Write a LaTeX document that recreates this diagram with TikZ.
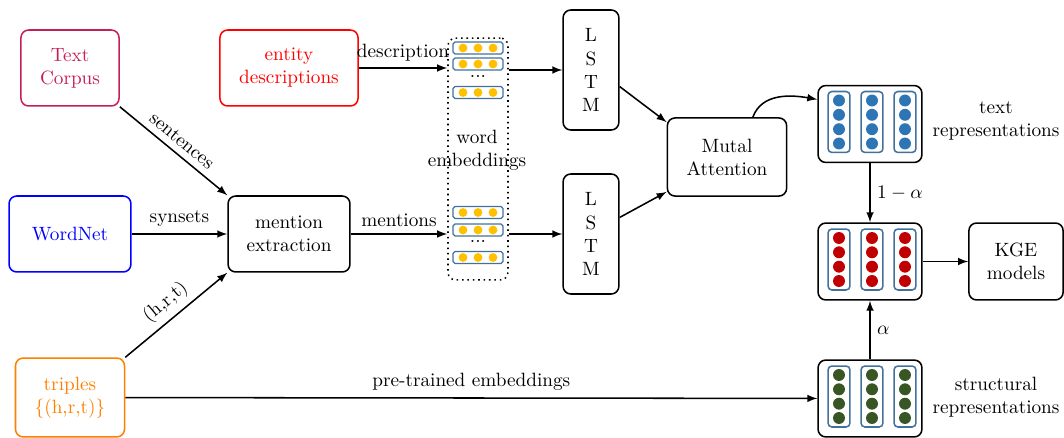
\documentclass[tikz,border=0pt]{standalone}
\usetikzlibrary{positioning}

\definecolor{corpus}{RGB}{198,30,90}
\definecolor{triplecol}{RGB}{255,128,0}
\definecolor{embline}{RGB}{65,113,156}
\definecolor{embdot}{RGB}{255,192,0}
\definecolor{textdot}{RGB}{46,117,182}
\definecolor{mixdot}{RGB}{192,0,0}
\definecolor{structdot}{RGB}{55,86,35}

\begin{document}
\begin{tikzpicture}[
  x=0.52pt, y=-0.52pt,
  box/.style={draw, thick, rounded corners=4pt, align=center, minimum height=39.5pt, inner sep=2pt},
  arr/.style={-latex, thick},
  embrect/.style={draw=embline, semithick, rounded corners=1pt, minimum width=26pt, minimum height=6.2pt, inner sep=0pt},
  column/.style={draw=embline, thick, rounded corners=2pt, minimum width=11.4pt, minimum height=31.7pt, inner sep=0pt},
]
  \useasboundingbox (0,0) rectangle (1064,438);

  % inputs
  \node[box, draw=corpus, text=corpus, minimum width=51pt] (tc) at (70,68) {Text\\Corpus};
  \node[box, draw=red, text=red, minimum width=71.8pt] (ed) at (289,68) {entity\\descriptions};
  \node[box, draw=blue, text=blue, minimum width=63.4pt] (wn) at (70,234) {WordNet};
  \node[box, draw=triplecol, text=triplecol, minimum width=56.7pt, minimum height=41pt] (tr) at (70,397.5) {triples\\$\{$(h,r,t)$\}$};
  \node[box, minimum width=63.4pt] (me) at (289,234) {mention\\extraction};

  % word embeddings
  \node[draw, thick, dotted, rounded corners=4pt, minimum width=31.2pt, minimum height=125.8pt] (we) at (478,159) {};
  \foreach \n/\y in {e1/48, e2/64, e3/92.5, f1/212.5, f2/230, f3/257.5} {
    \node[embrect] (\n) at (478,\y) {};
    \foreach \dx in {-15,0,15}
      \fill[embdot] (478+\dx,\y) circle (2.3pt);
  }
  \node[inner sep=0pt] (edots) at (478,76) {...};
  \node[inner sep=0pt] (fdots) at (478,241.5) {...};
  \node[align=center] (welabel) at (477,150) {word\\embeddings};

  \node[box, minimum width=29pt, minimum height=62.4pt] (lstm1) at (591,70) {L\\S\\T\\M};
  \node[box, minimum width=29pt, minimum height=62.4pt] (lstm2) at (591,234) {L\\S\\T\\M};
  \node[box, minimum width=62pt, minimum height=40.6pt] (ma) at (727,157) {Mutal\\Attention};

  % representations
  \foreach \n/\y/\c in {txt/124/textdot, mix/261.5/mixdot, str/398.5/structdot} {
    \node[box, minimum width=54pt, minimum height=40pt] (\n) at (870,\y) {};
    \foreach \dx in {-31,2,35} {
      \node[column] (\n-c\dx) at (870+\dx,\y-2) {};
      \foreach \dy in {-21.5,-7.2,7.2,21.5}
        \fill[\c] (870+\dx,\y-2+\dy) circle (3.1pt);
    }
  }
  \node[box, minimum width=49pt, minimum height=40pt] (kge) at (1016,261.5) {KGE\\models};
  \node[align=center] (txtlabel) at (996,120.5) {text\\representations};
  \node[align=center] (strlabel) at (996,397) {structural\\representations};

  % connectors
  \draw[arr] (tc.south east) -- node[sloped, above] {sentences} (me.north west);
  \draw[arr] (wn) -- node[above] {synsets} (me);
  \draw[arr] (tr.north east) -- node[sloped, above] {(h,r,t)} (me.south west);
  \draw[arr] (tr) -- node[above] {pre-trained embeddings} (str);
  \draw[arr] (ed) -- node[above] {description} (ed -| we.west);
  \draw[arr] (me) -- node[above] {mentions} (me -| we.west);
  \draw[arr] (we.east |- lstm1) -- (lstm1);
  \draw[arr] (we.east |- lstm2) -- (lstm2);
  \draw[arr] (lstm1.-30) -- (ma.150);
  \draw[arr] (lstm2.30) -- (ma.210);
  \draw[arr] (ma.57) to[out=70, in=170] (txt.155);
  \draw[arr] (txt) -- node[right] {$1-\alpha$} (mix);
  \draw[arr] (str) -- node[right] {$\alpha$} (mix);
  \draw[arr] (mix) -- (kge);
\end{tikzpicture}
\end{document}
